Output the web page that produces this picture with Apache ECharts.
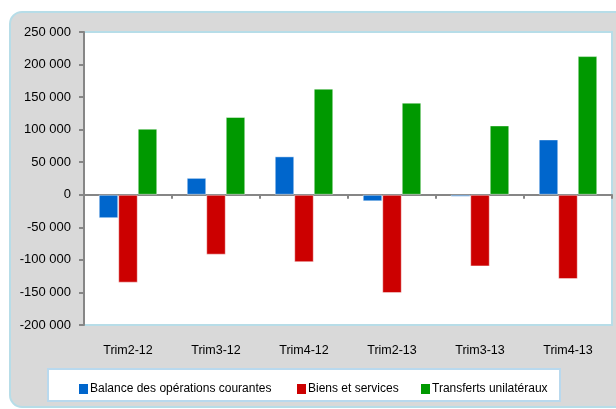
<!DOCTYPE html>
<html>
<head>
<meta charset="utf-8">
<style>
  html, body { margin: 0; padding: 0; background: #ffffff; }
  #main { width: 616px; height: 409px; }
</style>
<script src="https://cdn.jsdelivr.net/npm/echarts@6/dist/echarts.min.js"></script>
</head>
<body>
<div id="main"></div>
<script>
// trimestres
const categories = ['Trim2-12', 'Trim3-12', 'Trim4-12', 'Trim2-13', 'Trim3-13', 'Trim4-13'];
const seriesNames = ['Balance des opérations courantes', 'Biens et services', 'Transferts unilatéraux'];
// valeurs
const balanceCourante = [-36000, 26000, 59000, -10000, -3000, 85000];
const biensServices = [-135000, -92000, -103500, -151000, -110000, -129500];
const transferts = [101500, 119500, 163000, 141500, 106500, 213000];
const colors = ['#0066cc', '#cc0000', '#009900'];

const FONT = "'Liberation Sans', Arial, sans-serif";

function fmtNum(v) {
    const s = Math.abs(v).toString().replace(/\B(?=(\d{3})+(?!\d))/g, ' ');
    return (v < 0 ? '-' : '') + s;
}

var chart = echarts.init(document.getElementById('main'));

function barSeries(name, data, color) {
    return {
        name: name,
        type: 'bar',
        xAxisIndex: 0,
        barWidth: 19.5,
        barGap: '0%',
        itemStyle: {
            color: color,
            borderColor: 'rgba(255,255,255,0.45)',
            borderWidth: 1,
        },
        data: data,
    };
}

function legendAt(left, name) {
    return {
        left: left,
        top: 378,
        itemWidth: 9,
        itemHeight: 10,
        itemGap: 0,
        icon: 'rect',
        itemStyle: { borderWidth: 0 },
        textStyle: { fontFamily: FONT, fontSize: 12, color: '#000', padding: [0, 0, 0, -3] },
        data: [name],
    };
}

let option = {
    animation: false,
    graphic: [
        {
            type: 'rect',
            z: -10,
            shape: { x: 10, y: 12, width: 630, height: 395, r: 12 },
            style: { fill: '#d9d9d9', stroke: '#b7dde8', lineWidth: 2 },
        },
        {
            type: 'rect',
            z: -5,
            shape: { x: 48, y: 369, width: 512, height: 32 },
            style: { fill: '#ffffff', stroke: '#b9d9ee', lineWidth: 2 },
        },
    ],
    legend: [
        legendAt(74, seriesNames[0]),
        legendAt(292, seriesNames[1]),
        legendAt(416, seriesNames[2]),
    ],
    grid: {
        left: 84,
        top: 32,
        right: 4,
        bottom: 84,
        show: true,
        backgroundColor: '#ffffff',
        borderColor: '#b7dde8',
        borderWidth: 2,
    },
    xAxis: [
        {
            type: 'category',
            data: categories,
            axisLine: { onZero: true, lineStyle: { color: '#868686', width: 2 } },
            axisTick: { show: true, length: 4, lineStyle: { color: '#868686', width: 2 } },
            axisLabel: { show: false },
        },
        {
            type: 'category',
            data: categories,
            position: 'bottom',
            axisLine: { show: false, onZero: false },
            axisTick: { show: false },
            axisLabel: {
                margin: 19,
                fontFamily: FONT,
                fontSize: 12.5,
                color: '#000',
            },
        },
    ],
    yAxis: {
        type: 'value',
        min: -200000,
        max: 250000,
        interval: 50000,
        splitLine: { show: false },
        axisLine: { show: true, onZero: false, lineStyle: { color: '#868686', width: 2 } },
        axisTick: { show: true, length: 5, lineStyle: { color: '#868686', width: 2 } },
        axisLabel: {
            margin: 13,
            fontFamily: FONT,
            fontSize: 13,
            color: '#000',
            formatter: fmtNum,
        },
    },
    series: [
        barSeries(seriesNames[0], balanceCourante, colors[0]),
        barSeries(seriesNames[1], biensServices, colors[1]),
        barSeries(seriesNames[2], transferts, colors[2]),
    ],
};

chart.setOption(option);
</script>
</body>
</html>
